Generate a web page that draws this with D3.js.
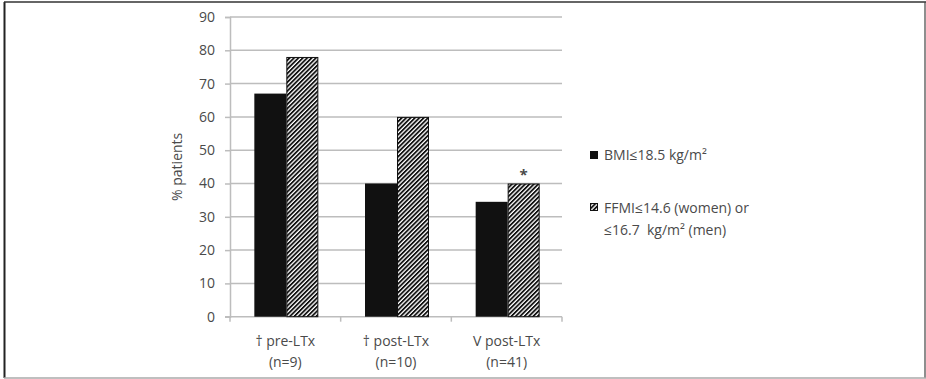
<!DOCTYPE html>
<html>
<head>
<meta charset="utf-8">
<script src="https://cdn.jsdelivr.net/npm/d3@7"></script>
<style>
  html, body { margin: 0; padding: 0; background: #fff; }
  svg { display: block; }
  text { font-family: "Open Sans", "Noto Sans", sans-serif; fill: #4a4a4a; }
</style>
</head>
<body>
<svg id="chart" width="926" height="379"></svg>
<script>
// Groups along the x axis (two label lines each)
const categories = ["† pre-LTx", "† post-LTx", "V post-LTx"];
const categoryCounts = ["(n=9)", "(n=10)", "(n=41)"];
// Percent of patients under each threshold
const bmiValues = [67, 40, 34.5];
const ffmiValues = [78, 60, 40];
const seriesNames = ["BMI≤18.5 kg/m²", "FFMI≤14.6 (women) or", "≤16.7\u00a0 kg/m² (men)"];
const yTicks = [0, 10, 20, 30, 40, 50, 60, 70, 80, 90];
const starred = [2]; // group index marked with an asterisk over FFMI bar

const svg = d3.select("#chart");

// outer frame
svg.append("line").attr("x1", 4.5).attr("x2", 4.5).attr("y1", 2).attr("y2", 378).attr("stroke", "#222").attr("stroke-width", 2);
svg.append("line").attr("x1", 4).attr("x2", 926).attr("y1", 2).attr("y2", 2).attr("stroke", "#333").attr("stroke-width", 1.5);
svg.append("line").attr("x1", 925).attr("x2", 925).attr("y1", 2).attr("y2", 378).attr("stroke", "#444").attr("stroke-width", 1.2);
svg.append("line").attr("x1", 4).attr("x2", 926).attr("y1", 378).attr("y2", 378).attr("stroke", "#aaa").attr("stroke-width", 1.5);

const defs = svg.append("defs");
defs.append("pattern")
  .attr("id", "hatch")
  .attr("patternUnits", "userSpaceOnUse")
  .attr("width", 3.1).attr("height", 3.1)
  .attr("patternTransform", "rotate(45)")
  .call(p => {
    p.append("rect").attr("width", 3.1).attr("height", 3.1).attr("fill", "#fff");
    p.append("line").attr("x1", 0.9).attr("x2", 0.9).attr("y1", 0).attr("y2", 3.1)
      .attr("stroke", "#111").attr("stroke-width", 1.8);
  });

const plot = { left: 230, right: 562, top: 17, bottom: 316.7 };

const x = d3.scaleBand().domain(d3.range(categories.length))
  .range([plot.left, plot.right]).paddingInner(0).paddingOuter(0);
const y = d3.scaleLinear().domain([0, 90]).range([plot.bottom, plot.top]);

const g = svg.append("g");

// gridlines
g.selectAll(".grid").data(yTicks.filter(t => t > 0)).join("line")
  .attr("x1", plot.left).attr("x2", plot.right)
  .attr("y1", d => y(d)).attr("y2", d => y(d))
  .attr("stroke", "#bdbdbd").attr("stroke-width", 1.5);

// y axis
const yAxis = d3.axisLeft(y).tickValues(yTicks).tickSize(5).tickPadding(10);
const ya = g.append("g").attr("transform", `translate(${plot.left},0)`).call(yAxis);
ya.select(".domain").attr("stroke", "#bdbdbd").attr("stroke-width", 1.5);
ya.selectAll(".tick line").attr("stroke", "#bdbdbd").attr("stroke-width", 1.5);
ya.selectAll(".tick text").style("font-size", "14px").attr("fill", "#4a4a4a");

// x axis baseline with boundary ticks
g.append("line").attr("x1", plot.left - 5).attr("x2", plot.right)
  .attr("y1", plot.bottom).attr("y2", plot.bottom)
  .attr("stroke", "#bdbdbd").attr("stroke-width", 1.5);
const bounds = d3.range(categories.length + 1).map(i => i < categories.length ? x(i) : x(i - 1) + x.bandwidth());
g.selectAll(".xt").data(bounds).join("line")
  .attr("x1", d => d).attr("x2", d => d)
  .attr("y1", plot.bottom).attr("y2", plot.bottom + 5)
  .attr("stroke", "#bdbdbd").attr("stroke-width", 1.5);

// bars
const barW = 32;
const sub = d3.scaleBand().domain([0, 1]).range([0, barW * 2]);
const groups = g.selectAll(".grp").data(d3.range(categories.length)).join("g")
  .attr("transform", i => `translate(${x(i) + x.bandwidth() / 2 - barW + 1},0)`);

groups.append("rect")
  .attr("x", sub(0)).attr("width", barW)
  .attr("y", i => y(bmiValues[i])).attr("height", i => y(0) - y(bmiValues[i]))
  .attr("fill", "#111");

groups.append("rect")
  .attr("x", sub(1) + 0.5).attr("width", barW - 1)
  .attr("y", i => y(ffmiValues[i]) + 0.5).attr("height", i => y(0) - y(ffmiValues[i]) - 0.5)
  .attr("fill", "url(#hatch)").attr("stroke", "#111").attr("stroke-width", 1);

// asterisk
g.selectAll(".star").data(starred).join("text")
  .attr("x", i => x(i) + x.bandwidth() / 2 + barW / 2 + 1)
  .attr("y", i => y(ffmiValues[i]) - 4)
  .attr("text-anchor", "middle")
  .style("font-size", "15px").style("font-weight", "bold").attr("fill", "#333")
  .text("*");

// category labels
const cl = g.selectAll(".cat").data(d3.range(categories.length)).join("text")
  .attr("text-anchor", "middle").style("font-size", "14px");
cl.append("tspan").attr("x", i => x(i) + x.bandwidth() / 2).attr("y", 346).text(i => categories[i]);
cl.append("tspan").attr("x", i => x(i) + x.bandwidth() / 2).attr("y", 367).text(i => categoryCounts[i]);

// y label
svg.append("text")
  .attr("transform", `translate(182,${(plot.top + plot.bottom) / 2}) rotate(-90)`)
  .attr("text-anchor", "middle").style("font-size", "14px")
  .text("% patients");

// legend
const lg = svg.append("g");
lg.append("rect").attr("x", 590).attr("y", 151).attr("width", 8).attr("height", 8).attr("fill", "#111");
lg.append("text").attr("x", 604).attr("y", 160).style("font-size", "14px").text(seriesNames[0]);
lg.append("rect").attr("x", 590.5).attr("y", 203.5).attr("width", 7).attr("height", 7)
  .attr("fill", "url(#hatch)").attr("stroke", "#111").attr("stroke-width", 1);
lg.append("text").attr("x", 604).attr("y", 213).style("font-size", "14px").text(seriesNames[1]);
lg.append("text").attr("x", 604).attr("y", 235).style("font-size", "14px").text(seriesNames[2]);
</script>
</body>
</html>
